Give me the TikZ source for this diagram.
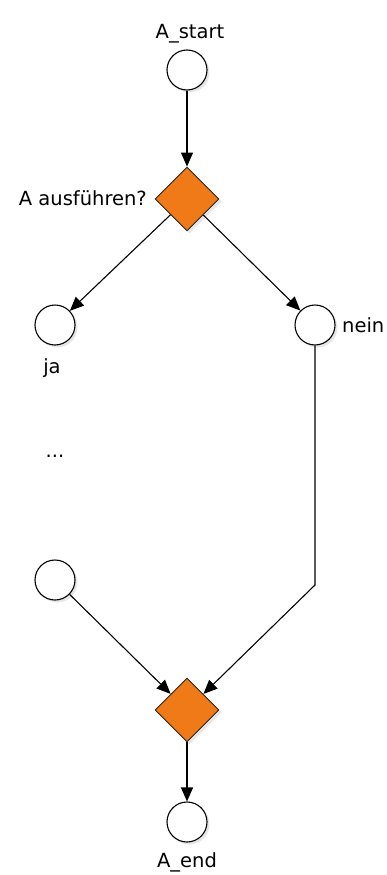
\documentclass[tikz,border=0pt]{standalone}
\usepackage{fontspec}
\setmainfont{DejaVu Sans}
\usetikzlibrary{shapes.geometric,arrows.meta,shadows}
\definecolor{gwOrange}{RGB}{240,122,24}
\begin{document}
\begin{tikzpicture}[x=1pt,y=-1pt,
  evt/.style={circle,draw=black,line width=1.1pt,fill=white,minimum size=40pt,inner sep=0pt,
    drop shadow={shadow xshift=2.5pt,shadow yshift=-2.5pt,fill=black!18}},
  gate/.style={diamond,draw=black!85,line width=0.9pt,fill=gwOrange,minimum size=64pt,inner sep=0pt,aspect=1,
    drop shadow={shadow xshift=2.5pt,shadow yshift=-2.5pt,fill=black!18}},
  lbl/.style={font=\fontsize{19.5}{22}\selectfont,inner sep=0pt,text=black},
  flow/.style={line width=1.1pt,-{Triangle[length=14pt,width=12pt]}}
]
\useasboundingbox[fill=white] (0,0) rectangle (387,875);

\node[evt] (start) at (187,70) {};
\node[gate] (d1) at (187,199) {};
\node[evt] (ja) at (55,325) {};
\node[evt] (nein) at (315,325) {};
\node[evt] (bl) at (55,580) {};
\node[gate] (d2) at (187,710) {};
\node[evt] (end) at (187,822) {};
\coordinate (bend) at (315,585);

\node[lbl,anchor=base] (tstart) at (190,38) {A\_start};
\node[lbl,anchor=base east] (tfrage) at (147,205) {A ausführen?};
\node[lbl,anchor=base west] (tnein) at (342,332) {nein};
\node[lbl,anchor=base] (tja) at (52,373) {ja};
\node[lbl,anchor=base] (tdots) at (55,457) {...};
\node[lbl,anchor=base] (tend) at (187,867) {A\_end};

\draw[flow] (start) -- (d1);
\draw[flow] (d1) -- (ja);
\draw[flow] (d1) -- (nein);
\draw[flow] (bl) -- (d2);
\draw[flow] (nein) -- (bend) -- (d2);
\draw[flow] (d2) -- (end);
\end{tikzpicture}
\end{document}
